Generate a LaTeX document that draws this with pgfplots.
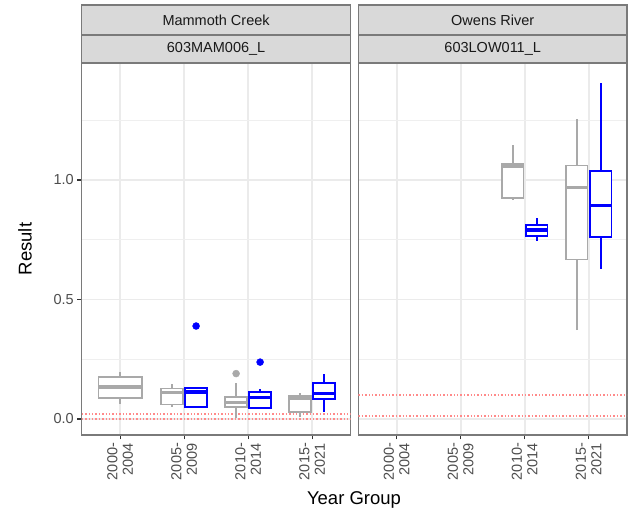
\documentclass[border=0pt]{standalone}
\usepackage{pgfplots}
\pgfplotsset{compat=1.18}
\usepackage{fontspec}
\setmainfont{Liberation Sans}
\definecolor{gbox}{HTML}{A9A9A9}
\definecolor{bbox}{HTML}{0000FF}
\definecolor{gridc}{HTML}{EBEBEB}
\definecolor{framec}{HTML}{7A7A7A}
\definecolor{stripf}{HTML}{D9D9D9}
\definecolor{ticklab}{HTML}{4D4D4D}
\definecolor{tickc}{HTML}{333333}
\definecolor{hl}{HTML}{FF8A8A}
\pgfplotsset{
  panel/.style={
    scale only axis, width=268.8pt, height=372pt,
    xmin=0.4, xmax=4.6, ymin=-0.0669, ymax=1.4895,
    xtick={1,2,3,4},
    xticklabels={{2000-\\2004},{2005-\\2009},{2010-\\2014},{2015-\\2021}},
    ytick={0,0.5,1}, yticklabels={0.0,0.5,1.0},
    minor ytick={0.25,0.75,1.25},
    grid=both,
    major grid style={gridc, line width=1.6pt},
    minor grid style={gridc!80!white, line width=0.9pt},
    tick align=outside, major tick length=4.5pt, minor tick length=0pt,
    xtick pos=lower, ytick pos=left,
    tick style={tickc, line width=1.2pt},
    axis line style={framec, line width=1.3pt},
    xticklabel style={rotate=90, anchor=east, align=right,
      font=\fontsize{14.5}{15.5}\selectfont, text=ticklab},
    yticklabel style={font=\fontsize{14.5}{15.5}\selectfont, text=ticklab},
  },
  gb/.style={draw=gbox, line width=1.8pt, solid},
  bb/.style={draw=bbox, line width=1.8pt, solid},
  hline/.style={hl, line width=1.6pt, dash pattern=on 1.4pt off 2pt},
}
% style, x centre, x left, x right, lower whisker, q1, median, q3, upper whisker
\newcommand{\bx}[9]{%
  \addplot[#1] coordinates {(#2,#5) (#2,#6)};
  \addplot[#1] coordinates {(#2,#8) (#2,#9)};
  \addplot[#1, fill=white, line join=miter] coordinates {(#3,#6) (#4,#6) (#4,#8) (#3,#8)} -- cycle;
  \addplot[#1, line width=3.4pt] coordinates {(#3,#7) (#4,#7)};
}
\begin{document}
\begin{tikzpicture}
\useasboundingbox (0,0) rectangle (629pt,513pt);
% ---------- left panel ----------
\begin{axis}[panel, name=ax1, at={(81.7pt,78pt)}, anchor=south west]
\addplot[hline] coordinates {(0.4,0.001) (4.6,0.001)};
\addplot[hline] coordinates {(0.4,0.02) (4.6,0.02)};
\bx{gb}{1}{0.6625}{1.3375}{0.063}{0.089}{0.134}{0.177}{0.198}
\bx{gb}{1.8125}{1.64375}{1.98125}{0.052}{0.061}{0.112}{0.128}{0.146}
\bx{bb}{2.1875}{2.01875}{2.35625}{0.049}{0.049}{0.113}{0.130}{0.130}
\bx{gb}{2.8125}{2.64375}{2.98125}{0.003}{0.050}{0.068}{0.092}{0.149}
\bx{bb}{3.1875}{3.01875}{3.35625}{0.042}{0.047}{0.091}{0.114}{0.127}
\bx{gb}{3.8125}{3.64375}{3.98125}{0.007}{0.029}{0.085}{0.096}{0.110}
\bx{bb}{4.1875}{4.01875}{4.35625}{0.029}{0.084}{0.107}{0.152}{0.188}
\addplot[only marks, mark=*, mark size=3.5pt, mark options={draw=gbox, fill=gbox}] coordinates {(2.8125,0.19)};
\addplot[only marks, mark=*, mark size=3.5pt, mark options={draw=bbox, fill=bbox}] coordinates {(2.1875,0.389) (3.1875,0.238)};
\end{axis}
% ---------- right panel ----------
\begin{axis}[panel, name=ax2, at={(358.3pt,78pt)}, anchor=south west,
  yticklabels={}, ytick style={draw=none}]
\addplot[hline] coordinates {(0.4,0.0125) (4.6,0.0125)};
\addplot[hline] coordinates {(0.4,0.10) (4.6,0.10)};
\bx{gb}{2.8125}{2.64375}{2.98125}{0.916}{0.923}{1.059}{1.066}{1.146}
\bx{bb}{3.1875}{3.01875}{3.35625}{0.745}{0.767}{0.791}{0.813}{0.840}
\bx{gb}{3.8125}{3.64375}{3.98125}{0.372}{0.667}{0.968}{1.061}{1.254}
\bx{bb}{4.1875}{4.01875}{4.35625}{0.628}{0.760}{0.894}{1.038}{1.407}
\end{axis}
% ---------- strips ----------
\foreach \ax/\top/\bot in {ax1/Mammoth Creek/603MAM006\_L, ax2/Owens River/603LOW011\_L}{
  \draw[framec, line width=1.3pt, fill=stripf] (\ax.north west) rectangle ([yshift=28pt]\ax.north east);
  \draw[framec, line width=1.3pt, fill=stripf] ([yshift=28pt]\ax.north west) rectangle ([yshift=58pt]\ax.north east);
  \node[text=black!90, font=\fontsize{14.5}{15.5}\selectfont] at ([yshift=14pt]\ax.north) {\bot};
  \node[text=black!90, font=\fontsize{14.5}{15.5}\selectfont] at ([yshift=43pt]\ax.north) {\top};
}
% ---------- titles ----------
\node[font=\fontsize{18.5}{20}\selectfont] at (354pt,13pt) {Year Group};
\node[font=\fontsize{18.5}{20}\selectfont, rotate=90] at (25pt,264pt) {Result};
\end{tikzpicture}
\end{document}
